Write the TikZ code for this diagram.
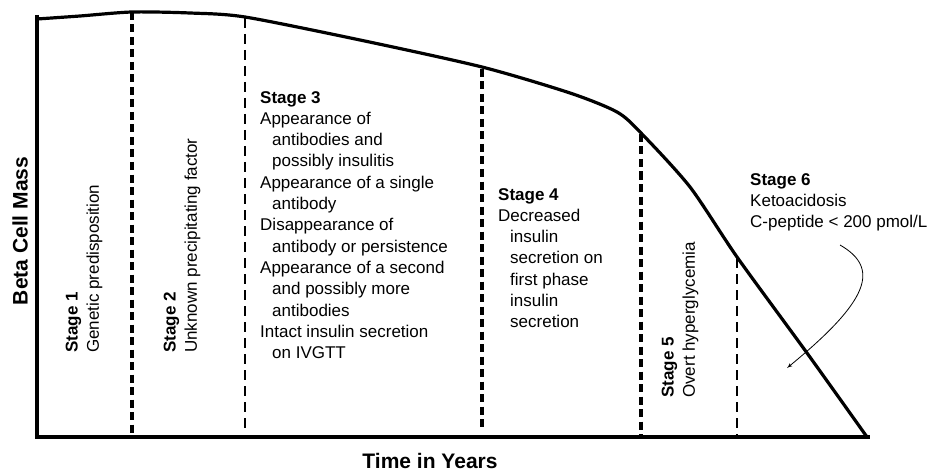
\documentclass[tikz,border=0pt]{standalone}
\usepackage{fontspec}
\setmainfont{Liberation Sans}
\usetikzlibrary{arrows,calc}
\newcommand{\ind}{\hspace*{12pt}}
\tikzset{%
	% Style of the axes
	Axis/.style={line width=3.4pt},
	% Style of the beta cell mass curve
	MassCurve/.style={line width=3.2pt, line join=round},
	% Style of the heavy stage borders
	BorderHeavy/.style={line width=3.2pt, dash pattern=on 8pt off 4.5pt},
	% Style of the light stage borders
	BorderLight/.style={line width=2.2pt, dash pattern=on 10pt off 6pt},
	% Style of the stage texts
	StageText/.style={font=\fontsize{17}{21.3}\selectfont, align=left, inner sep=0},
	% Style of the axis labels
	AxisName/.style={font=\fontsize{21}{25}\selectfont\bfseries, inner sep=0},
	% Style of the pointer
	Pointer/.style={line width=0.8pt, -latex'},
}

\begin{document}
\begin{tikzpicture}[x=1pt,y=-1pt]
\useasboundingbox (0,0) rectangle (933,473);

%~~~~~~~~~~~~~~~~~~~~~~~~~~~~~~~~~~~~~~~~~~~~~~~~~~
% Set Axes
%~~~~~~~~~~~~~~~~~~~~~~~~~~~~~~~~~~~~~~~~~~~~~~~~~~
\coordinate (Top) at (37, 15);
\coordinate (Origin) at (37, 437);
\coordinate (End) at (870, 437);
\draw[Axis] (Top) -- (Origin) -- (End);

\node[AxisName, rotate=90] (YName) at (20, 231) {Beta Cell Mass};
\node[AxisName, anchor=base] (XName) at (430, 468) {Time in Years};

%~~~~~~~~~~~~~~~~~~~~~~~~~~~~~~~~~~~~~~~~~~~~~~~~~~
% Set Curve
%~~~~~~~~~~~~~~~~~~~~~~~~~~~~~~~~~~~~~~~~~~~~~~~~~~
\draw[MassCurve] plot[smooth, tension=0.45] coordinates {(37, 19) (80, 16) (132, 12) (190, 13) (245, 17) (360, 40) (482, 67) (570, 93) (617, 112) (641, 133) (690, 187) (737, 257) (807, 353) (867, 437)};

%~~~~~~~~~~~~~~~~~~~~~~~~~~~~~~~~~~~~~~~~~~~~~~~~~~
% Set Stage Borders
%~~~~~~~~~~~~~~~~~~~~~~~~~~~~~~~~~~~~~~~~~~~~~~~~~~
\coordinate (B1) at (132, 12);
\coordinate (B2) at (245, 18);
\coordinate (B3) at (482, 69);
\coordinate (B4) at (641, 134);
\coordinate (B5) at (737, 258);

\draw[BorderHeavy] (B1) -- (B1 |- Origin);
\draw[BorderLight] (B2) -- ($(B2 |- Origin) + (0, -7)$);
\draw[BorderHeavy] (B3) -- ($(B3 |- Origin) + (0, -7)$);
\draw[BorderHeavy] (B4) -- (B4 |- Origin);
\draw[BorderLight] (B5) -- (B5 |- Origin);

%~~~~~~~~~~~~~~~~~~~~~~~~~~~~~~~~~~~~~~~~~~~~~~~~~~
% Set Stage Texts
%~~~~~~~~~~~~~~~~~~~~~~~~~~~~~~~~~~~~~~~~~~~~~~~~~~
\node[StageText, rotate=90, anchor=west] (S1) at (84, 353) {\textbf{Stage 1}\\Genetic predisposition};
\node[StageText, rotate=90, anchor=west] (S2) at (182, 353) {\textbf{Stage 2}\\Unknown precipitating factor};

\node[StageText, anchor=north west] (S3) at (260, 91) {\textbf{Stage 3}\\Appearance of\\\ind antibodies and\\\ind possibly insulitis\\Appearance of a single\\\ind antibody\\Disappearance of\\\ind antibody or persistence\\Appearance of a second\\\ind and possibly more\\\ind antibodies\\Intact insulin secretion\\\ind on IVGTT};

\node[StageText, anchor=north west] (S4) at (498, 188) {\textbf{Stage 4}\\Decreased\\\ind insulin\\\ind secretion on\\\ind first phase\\\ind insulin\\\ind secretion};

\node[StageText, rotate=90, anchor=west] (S5) at (680, 398) {\textbf{Stage 5}\\Overt hyperglycemia};

\node[StageText, anchor=north west] (S6) at (750, 173) {\textbf{Stage 6}\\Ketoacidosis\\C-peptide < 200 pmol/L};

%~~~~~~~~~~~~~~~~~~~~~~~~~~~~~~~~~~~~~~~~~~~~~~~~~~
% Set Pointer
%~~~~~~~~~~~~~~~~~~~~~~~~~~~~~~~~~~~~~~~~~~~~~~~~~~
\coordinate (P1) at (840, 245);
\coordinate (P2) at (787, 368);
\draw[Pointer] (P1) ..controls(880, 268) and (870, 300).. (P2);

\end{tikzpicture}
\end{document}
